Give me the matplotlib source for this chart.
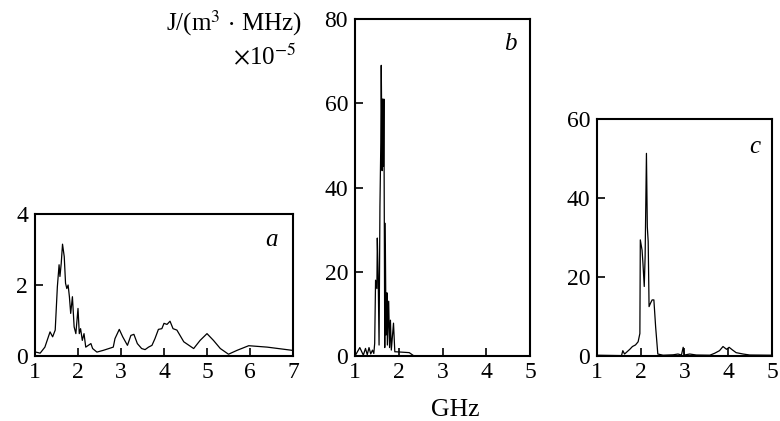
import matplotlib
matplotlib.use('Agg')
import matplotlib.pyplot as plt

plt.rcParams['font.family'] = ['Liberation Serif', 'DejaVu Serif']
plt.rcParams['mathtext.fontset'] = 'stix'

# panel a
fa = [1.02, 1.12, 1.23, 1.35, 1.41, 1.47, 1.52, 1.56, 1.58, 1.61, 1.64, 1.68, 1.71, 1.74,
      1.77, 1.80, 1.83, 1.87, 1.91, 1.95, 2.00, 2.03, 2.06, 2.10, 2.14, 2.18, 2.24, 2.30,
      2.34, 2.44, 2.59, 2.82, 2.86, 2.96, 3.04, 3.15, 3.23, 3.30, 3.38, 3.48, 3.56, 3.64,
      3.72, 3.79, 3.87, 3.95, 4.00, 4.07, 4.14, 4.21, 4.30, 4.46, 4.69, 4.84, 5.00, 5.15,
      5.31, 5.50, 5.70, 5.97, 6.40, 6.98]
ja = [0.11, 0.08, 0.25, 0.68, 0.54, 0.73, 1.95, 2.57, 2.24, 2.61, 3.15, 2.80, 2.05, 1.90,
      2.00, 1.67, 1.20, 1.67, 0.82, 0.63, 1.34, 0.63, 0.77, 0.44, 0.63, 0.25, 0.30, 0.35,
      0.21, 0.11, 0.16, 0.25, 0.49, 0.75, 0.54, 0.30, 0.58, 0.61, 0.35, 0.21, 0.18, 0.25,
      0.30, 0.49, 0.75, 0.77, 0.92, 0.89, 0.98, 0.77, 0.73, 0.40, 0.21, 0.44, 0.63, 0.44,
      0.21, 0.05, 0.16, 0.29, 0.25, 0.16]

# panel b
fb = [1.00, 1.11, 1.19, 1.24, 1.28, 1.32, 1.36, 1.40, 1.43, 1.45, 1.47, 1.50, 1.51, 1.53,
      1.55, 1.57, 1.59, 1.60, 1.62, 1.63, 1.65, 1.66, 1.68, 1.69, 1.71, 1.73, 1.74, 1.77,
      1.79, 1.81, 1.83, 1.88, 1.91, 1.94, 2.24, 2.35, 5.00]
jb = [0.0, 2.0, 0.2, 1.8, 0.3, 2.0, 0.5, 1.4, 0.6, 3.0, 18.0, 16.0, 28.0, 19.0,
      2.6, 35.5, 50.6, 69.0, 44.0, 61.0, 45.0, 61.0, 2.0, 31.5, 5.0, 15.0, 2.6, 13.0,
      2.0, 8.5, 1.4, 7.8, 1.0, 1.0, 0.8, 0.0, 0.0]

# panel c
fc = [1.00, 1.56, 1.59, 1.63, 1.69, 1.75, 1.81, 1.88, 1.94, 1.98, 1.99, 2.03, 2.05, 2.08,
      2.10, 2.13, 2.15, 2.17, 2.19, 2.22, 2.26, 2.30, 2.34, 2.39, 2.51, 2.74, 2.85, 2.93,
      2.97, 3.00, 3.12, 3.27, 3.58, 3.69, 3.80, 3.88, 3.96, 4.02, 4.10, 4.18, 4.34, 4.49,
      5.00]
jc = [0.2, 0.1, 1.35, 0.5, 1.1, 1.7, 2.4, 2.8, 3.6, 5.7, 29.4, 26.8, 23.5, 17.6,
      25.2, 51.3, 32.7, 29.0, 12.5, 13.3, 14.2, 14.2, 7.4, 0.5, 0.2, 0.3, 0.5, 0.25,
      2.2, 0.25, 0.5, 0.25, 0.2, 0.7, 1.35, 2.4, 1.7, 2.2, 1.5, 0.85, 0.5, 0.25,
      0.2]

fig = plt.figure(figsize=(7.8, 4.21), dpi=100)
W, H = 780.0, 421.0

def make_ax(x0, x1, y0, y1):
    return fig.add_axes([x0 / W, (H - y1) / H, (x1 - x0) / W, (y1 - y0) / H])

ax_a = make_ax(35, 293, 214, 356)
ax_b = make_ax(355, 530, 19, 356)
ax_c = make_ax(597, 772, 119, 356)

panels = [
    (ax_a, fa, ja, (1, 7), (0, 4), [0, 2, 4], 'a', (0.915, 0.82)),
    (ax_b, fb, jb, (1, 5), (0, 80), [0, 20, 40, 60, 80], 'b', (0.89, 0.925)),
    (ax_c, fc, jc, (1, 5), (0, 60), [0, 20, 40, 60], 'c', (0.90, 0.88)),
]

for ax, f, j, xl, yl, yt, lab, pos in panels:
    ax.plot(f, j, color='black', lw=0.9)
    ax.set_xlim(*xl)
    ax.set_ylim(*yl)
    ax.set_xticks(range(xl[0], xl[1] + 1))
    ax.set_yticks(yt)
    ax.tick_params(direction='in', length=6, width=1.2, labelsize=17, colors='black')
    ax.tick_params(axis='x', pad=4)
    ax.tick_params(axis='y', pad=5)
    for s in ax.spines.values():
        s.set_linewidth(1.5)
    ax.text(pos[0], pos[1], lab, transform=ax.transAxes, fontsize=18,
            style='italic', ha='center', va='center')

fig.text(302 / W, 1 - 23 / H, r'J/(m$^3\,\cdot\,$MHz)', fontsize=18, ha='right', va='center')
fig.text(296 / W, 1 - 56 / H, r'$\times$10$^{-5}$', fontsize=18, ha='right', va='center')
fig.text(455 / W, 1 - 410 / H, 'GHz', fontsize=18.5, ha='center', va='center')

fig.savefig('out.png', dpi=100)
